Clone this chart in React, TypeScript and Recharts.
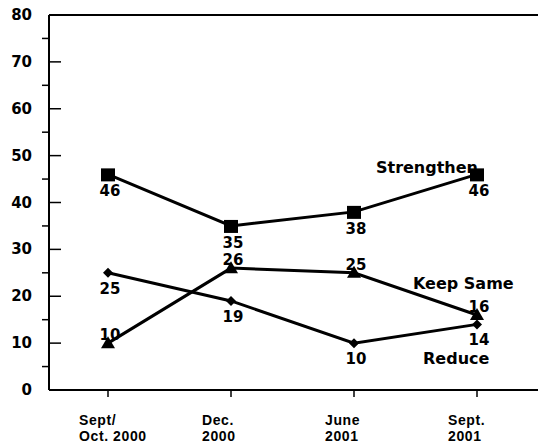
import React from 'react';
import { LineChart, Line, XAxis, YAxis, ReferenceLine, LabelList } from 'recharts';

const categories = ['Sept/\nOct. 2000', 'Dec.\n2000', 'June\n2001', 'Sept.\n2001'];
const strengthen = [46, 35, 38, 46];
const keepSame = [10, 26, 25, 16];
const reduce = [25, 19, 10, 14];
const yTicks = [0, 5, 10, 15, 20, 25, 30, 35, 40, 45, 50, 55, 60, 65, 70, 75, 80];
const seriesNames = { strengthen: 'Strengthen', keepSame: 'Keep Same', reduce: 'Reduce' };

const data = categories.map((cat, i) => ({
  cat,
  strengthen: strengthen[i],
  keepSame: keepSame[i],
  reduce: reduce[i],
}));

const LABEL_FONT = "'DejaVu Sans', sans-serif";
const TICK_FONT = "'Liberation Sans', Arial, sans-serif";

const YTick = (props: any) => {
  const { x, y, payload } = props;
  const v = payload.value;
  if (v % 10 === 0) {
    return (
      <g>
        <line x1={x} x2={x + 12} y1={y} y2={y} stroke="#000" strokeWidth={1.5} />
        <text x={x - 17} y={y} dy={5} textAnchor="end" fontFamily={LABEL_FONT} fontWeight="bold" fontSize={15} fill="#000">
          {v}
        </text>
      </g>
    );
  }
  return <line x1={x - 7} x2={x} y1={y} y2={y} stroke="#000" strokeWidth={1.5} />;
};

const XTick = (props: any) => {
  const { x, y, payload } = props;
  const lines = String(payload.value).split('\n');
  return (
    <g>
      {lines.map((t, i) => (
        <text key={i} x={x - 29} y={y + 28 + i * 16} textAnchor="start" fontFamily={TICK_FONT} fontWeight="bold" fontSize={14} letterSpacing={0.6} fill="#000">
          {t}
        </text>
      ))}
    </g>
  );
};

const SquareDot = (props: any) => {
  const { cx, cy, index } = props;
  return <rect key={`s${index}`} x={cx - 7} y={cy - 6} width={14} height={13} fill="#000" />;
};
const TriangleDot = (props: any) => {
  const { cx, cy, index } = props;
  return <polygon key={`t${index}`} points={`${cx},${cy - 7} ${cx - 7},${cy + 5} ${cx + 7},${cy + 5}`} fill="#000" />;
};
const DiamondDot = (props: any) => {
  const { cx, cy, index } = props;
  return <polygon key={`d${index}`} points={`${cx},${cy - 5} ${cx + 5},${cy} ${cx},${cy + 5} ${cx - 5},${cy}`} fill="#000" />;
};

const makeLabel = (dy: number, name: string, nameAnchor: 'start' | 'end', ndx: number, ndy: number) => (props: any) => {
  const { x, y, value, index } = props;
  return (
    <g>
      <text x={x + 2} y={y + dy} textAnchor="middle" fontFamily={LABEL_FONT} fontWeight="bold" fontSize={15} fill="#000">
        {value}
      </text>
      {index === categories.length - 1 && (
        <text x={x + ndx} y={y + ndy} textAnchor={nameAnchor} fontFamily={LABEL_FONT} fontWeight="bold" fontSize={16} fill="#000">
          {name}
        </text>
      )}
    </g>
  );
};

export default function App() {
  return (
    <div style={{ position: 'absolute', left: 0, top: 0, background: '#fff' }}>
      <LineChart width={538} height={445} data={data} margin={{ top: 15, right: 0, bottom: 0, left: 0 }}>
        <XAxis
          dataKey="cat"
          height={55}
          interval={0}
          padding={{ left: 59, right: 61 }}
          axisLine={{ stroke: '#000', strokeWidth: 2 }}
          tickLine={{ stroke: '#000', strokeWidth: 1.5 }}
          tickSize={7}
          tickMargin={0}
          tick={<XTick />}
        />
        <YAxis
          width={49}
          domain={[0, 80]}
          ticks={yTicks}
          interval={0}
          axisLine={{ stroke: '#000', strokeWidth: 2 }}
          tickLine={false}
          tickSize={0}
          tickMargin={0}
          tick={<YTick />}
        />
        <ReferenceLine y={80} stroke="#000" strokeWidth={2} ifOverflow="visible" />
        <Line dataKey="strengthen" stroke="#000" strokeWidth={3} dot={SquareDot} isAnimationActive={false}>
          <LabelList dataKey="strengthen" content={makeLabel(22, seriesNames.strengthen, 'end', 1, -1)} />
        </Line>
        <Line dataKey="keepSame" stroke="#000" strokeWidth={3} dot={TriangleDot} isAnimationActive={false}>
          <LabelList dataKey="keepSame" content={makeLabel(-3, seriesNames.keepSame, 'start', -64, -26)} />
        </Line>
        <Line dataKey="reduce" stroke="#000" strokeWidth={3} dot={DiamondDot} isAnimationActive={false}>
          <LabelList dataKey="reduce" content={makeLabel(21, seriesNames.reduce, 'start', -54, 40)} />
        </Line>
      </LineChart>
    </div>
  );
}
